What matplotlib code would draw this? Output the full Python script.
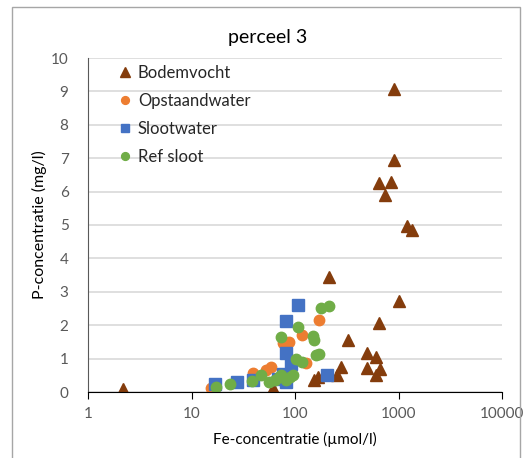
import matplotlib.pyplot as plt
from matplotlib.patches import Rectangle

plt.rcParams['font.family'] = ['Lato', 'DejaVu Sans']

# Fe (umol/l) and P (mg/l) per sample type
bodem_fe = [2.2, 61, 154, 165, 252, 281, 322, 215, 491, 600, 501, 670, 600,
            655, 1000, 1195, 1365, 895, 641, 855, 733, 895]
bodem_p = [0.09, 0.12, 0.36, 0.45, 0.51, 0.75, 1.56, 3.44, 1.17, 1.05, 0.72,
           0.69, 0.51, 2.07, 2.72, 4.97, 4.85, 6.95, 6.26, 6.29, 5.9, 9.07]

opstaand_fe = [172, 118, 88, 76, 129, 59, 53, 39, 15.6]
opstaand_p = [2.16, 1.71, 1.50, 1.47, 0.87, 0.75, 0.66, 0.57, 0.12]

sloot_fe = [16.7, 27.8, 39.7, 67.8, 82.7, 82.7, 92.5, 81, 106, 206, 76]
sloot_p = [0.24, 0.30, 0.36, 0.39, 0.30, 1.17, 0.84, 2.13, 2.60, 0.51, 0.54]

ref_fe = [17.4, 23.8, 38.8, 47.4, 56.7, 63.4, 70.8, 74, 82.7, 88.5, 94.6,
          74, 106, 148, 151, 103, 116, 161, 169, 180, 215]
ref_p = [0.15, 0.24, 0.33, 0.51, 0.30, 0.36, 0.45, 0.51, 0.36, 0.45, 0.51,
         1.65, 1.95, 1.68, 1.56, 0.99, 0.90, 1.11, 1.14, 2.51, 2.57]

grey = '#595959'

fig = plt.figure(figsize=(5.31, 4.58), dpi=100)
ax = fig.add_axes([88/531, 66/458, 414/531, 334/458])

ax.plot(bodem_fe, bodem_p, '^', color='#843c0c', ms=9, mec='#843c0c', label='Bodemvocht')
ax.plot(opstaand_fe, opstaand_p, 'o', color='#ed7d31', ms=7.5, mec='#ed7d31', label='Opstaandwater')
ax.plot(sloot_fe, sloot_p, 's', color='#4472c4', ms=8.5, mec='#4472c4', label='Slootwater')
ax.plot(ref_fe, ref_p, 'o', color='#70ad47', ms=7.5, mec='#70ad47', label='Ref sloot')

ax.set_xscale('log')
ax.set_xlim(1, 10000)
ax.set_ylim(0, 10)
ax.set_yticks(range(0, 11))
ax.set_xticks([1, 10, 100, 1000, 10000])
ax.set_xticklabels(['1', '10', '100', '1000', '10000'])
ax.minorticks_off()

ax.grid(axis='y', color='#d9d9d9', lw=1.2)
ax.set_axisbelow(True)
for s in ['top', 'right']:
    ax.spines[s].set_visible(False)
ax.spines['left'].set_color(grey)
ax.spines['bottom'].set_color('black')
ax.tick_params(axis='y', length=0, pad=14, labelsize=11, labelcolor=grey)
ax.tick_params(axis='x', length=5, direction='out', color='black', pad=6,
               labelsize=11, labelcolor=grey)

fig.text(268/531, 1 - 38/458, 'perceel 3', fontsize=14, color='black',
         ha='center', va='center')
ax.set_xlabel('Fe-concentratie (\u00b5mol/l)', fontsize=11, color='black', labelpad=8)
ax.set_ylabel('P-concentratie (mg/l)', fontsize=11.5, color='black', labelpad=3)

leg = ax.legend(loc='upper left', bbox_to_anchor=(0.03, 1.023), frameon=False,
                fontsize=12, handletextpad=0.15, labelspacing=0.72, markerscale=0.75,
                handlelength=1.2)
for t in leg.get_texts():
    t.set_color('#262626')

fig.patches.append(Rectangle((12/531, -0.05), 508/531, 1.05 - 7/458, transform=fig.transFigure,
                             fill=False, edgecolor='#a6a6a6', lw=1))

fig.savefig('out.png', dpi=100)
